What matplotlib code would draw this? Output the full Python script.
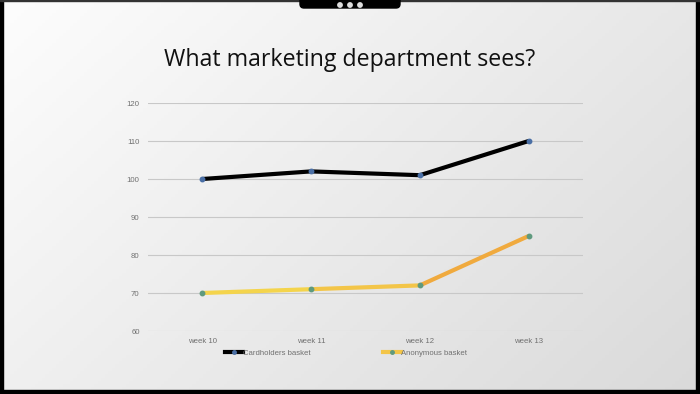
import numpy as np
import matplotlib as mpl
mpl.use("Agg")
import matplotlib.pyplot as plt
from matplotlib.patches import Rectangle
from matplotlib.lines import Line2D

weeks = ['week 10', 'week 11', 'week 12', 'week 13']
cardholders = [100, 102, 101, 110]
anonymous = [70, 71, 72, 85]
yticks = [60, 70, 80, 90, 100, 110, 120]

W, H = 700, 394
fig = plt.figure(figsize=(7, 3.94), dpi=100)
plt.rcParams['font.family'] = ['Liberation Sans', 'DejaVu Sans']

# slide background: light gradient, white top-left to grey bottom-right
bg = fig.add_axes([0, 0, 1, 1], zorder=-10)
gx, gy = np.meshgrid(np.linspace(0, 1, 200), np.linspace(0, 1, 120))
grad = 0.62 * gx + 0.38 * gy
bg.imshow(grad, cmap=mpl.colors.LinearSegmentedColormap.from_list('g', ['#fdfdfd', '#dadada']),
          extent=[0, W, H, 0], aspect='auto')
bg.set_xlim(0, W)
bg.set_ylim(H, 0)
bg.axis('off')

# black frame round the screenshot
bg.add_patch(Rectangle((0, 0), 3, H, color='black'))
bg.add_patch(Rectangle((W - 4, 0), 4, H, color='black'))
bg.add_patch(Rectangle((0, H - 4), W, 4, color='black'))
bg.add_patch(Rectangle((0, 0), W, 1, color='#333333'))
bg.add_patch(mpl.patches.FancyBboxPatch((300, -6), 100, 14, boxstyle='round,pad=0,rounding_size=4',
                                        color='black'))
for cx in (340, 350, 360):
    bg.add_patch(mpl.patches.Circle((cx, 5), 2.2, color='#dddddd'))

fig.text(0.5, 1 - 60 / H, 'What marketing department sees?', ha='center', va='center',
         fontsize=16.7, family='Open Sans', color='#111111')

# plot area
left, right, top, bottom = 148, 583, 103, 331
ax = fig.add_axes([left / W, 1 - bottom / H, (right - left) / W, (bottom - top) / H])
ax.patch.set_alpha(0)
x = np.arange(len(weeks))

ax.plot(x, cardholders, color='black', lw=3, solid_capstyle='round', zorder=3,
        marker='o', ms=3.2, mfc='#4a6fa5', mec='#4a6fa5')

ycols = ['#f4d44c', '#f3c548', '#f0aa3e']
for i in range(len(x) - 1):
    ax.plot(x[i:i + 2], anonymous[i:i + 2], color=ycols[i], lw=3, solid_capstyle='round', zorder=3)
ax.plot(x, anonymous, ls='none', marker='o', ms=3.2, mfc='#5f9a7e', mec='#5f9a7e', zorder=4)

ax.set_xlim(-0.5, len(weeks) - 0.5)
ax.set_ylim(60, 120)
ax.set_yticks(yticks)
ax.set_xticks(x)
ax.set_xticklabels(weeks)
ax.grid(axis='y', color='#c8c8c8', lw=0.8)
ax.set_axisbelow(True)
for s in ax.spines.values():
    s.set_visible(False)
ax.tick_params(length=0, labelsize=5.6, labelcolor='#707070', pad=6)
ax.tick_params(axis='x', pad=5)

# legend below
h1 = Line2D([], [], color='black', lw=3, marker='o', ms=2.5, mfc='#4a6fa5', mec='#4a6fa5')
h2 = Line2D([], [], color='#f3c548', lw=3, marker='o', ms=2.5, mfc='#5f9a7e', mec='#5f9a7e')
fig.legend([h1, h2], ['Cardholders basket', 'Anonymous basket'], loc='center',
           bbox_to_anchor=(346 / W, 1 - 353 / H), ncol=2, frameon=False, fontsize=5.6,
           labelcolor='#707070', handlelength=2.3, handletextpad=0.0, columnspacing=9.4)

fig.savefig('out.png', dpi=100)
